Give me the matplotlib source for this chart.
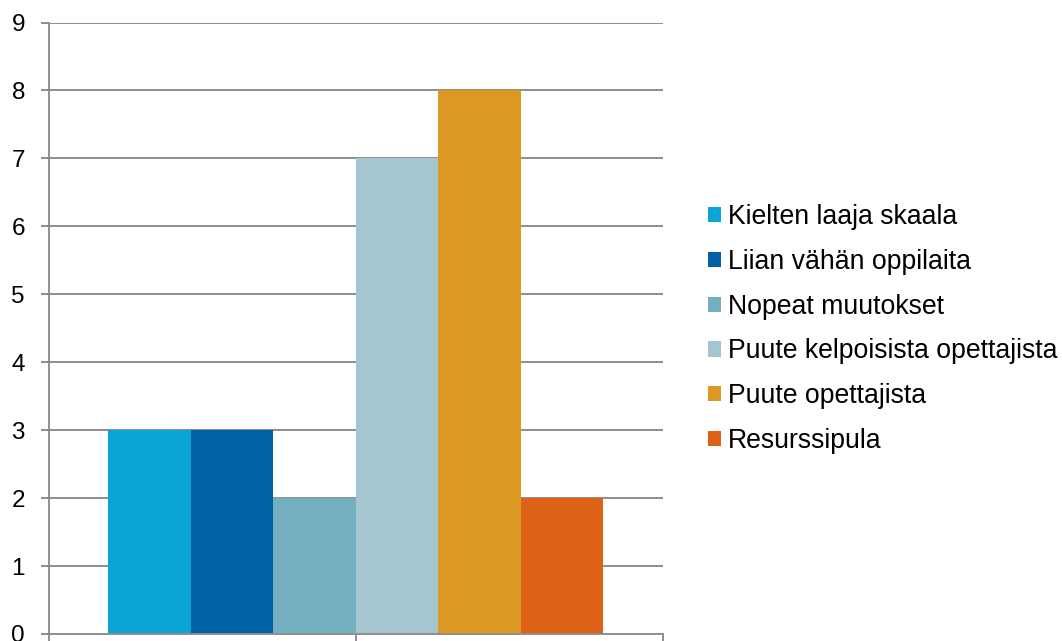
import matplotlib.pyplot as plt

plt.rcParams['font.family'] = ['Liberation Sans', 'DejaVu Sans']

# data
labels = ['Kielten laaja skaala', 'Liian vähän oppilaita', 'Nopeat muutokset',
          'Puute kelpoisista opettajista', 'Puute opettajista', 'Resurssipula']
values = [3, 3, 2, 7, 8, 2]
colors = ['#0AA5D5', '#0062A5', '#74AFC0', '#A5C6D0', '#DB9823', '#DE6118']

grid_col = '#8E8E8E'

fig = plt.figure(figsize=(10.62, 6.41), dpi=100)
ax = fig.add_axes([48.5 / 1062, 1 - 634 / 641, (663 - 48.5) / 1062, (634 - 22.5) / 641])

w = 0.805 / len(values)
for i, (lab, v, c) in enumerate(zip(labels, values, colors)):
    ax.bar((i - (len(values) - 1) / 2) * w, v, width=w, color=c, label=lab, zorder=2)

ax.set_xlim(-0.5, 0.5)
ax.set_ylim(0, 9)
ax.set_yticks(range(10))
ax.set_xticks([-0.5, 0, 0.5])
ax.set_xticklabels([])
ax.yaxis.grid(True, color=grid_col, linewidth=1.4, zorder=0)
ax.set_axisbelow(True)

for s in ['top', 'right']:
    ax.spines[s].set_visible(False)
for s in ['left', 'bottom']:
    ax.spines[s].set_color(grid_col)
    ax.spines[s].set_linewidth(1.4)

ax.tick_params(axis='y', direction='out', length=6, width=1.4, color=grid_col,
               labelsize=17.5, pad=11)
ax.tick_params(axis='x', direction='out', length=8, width=1.4, color=grid_col)

fig.legend(loc='center left', bbox_to_anchor=(708 / 1062, 1 - 329 / 641),
           frameon=False, fontsize=19.2, handlelength=0.49, handleheight=0.49,
           handletextpad=0.27, labelspacing=0.71, borderpad=0, borderaxespad=0)

fig.savefig('out.png', dpi=100)
